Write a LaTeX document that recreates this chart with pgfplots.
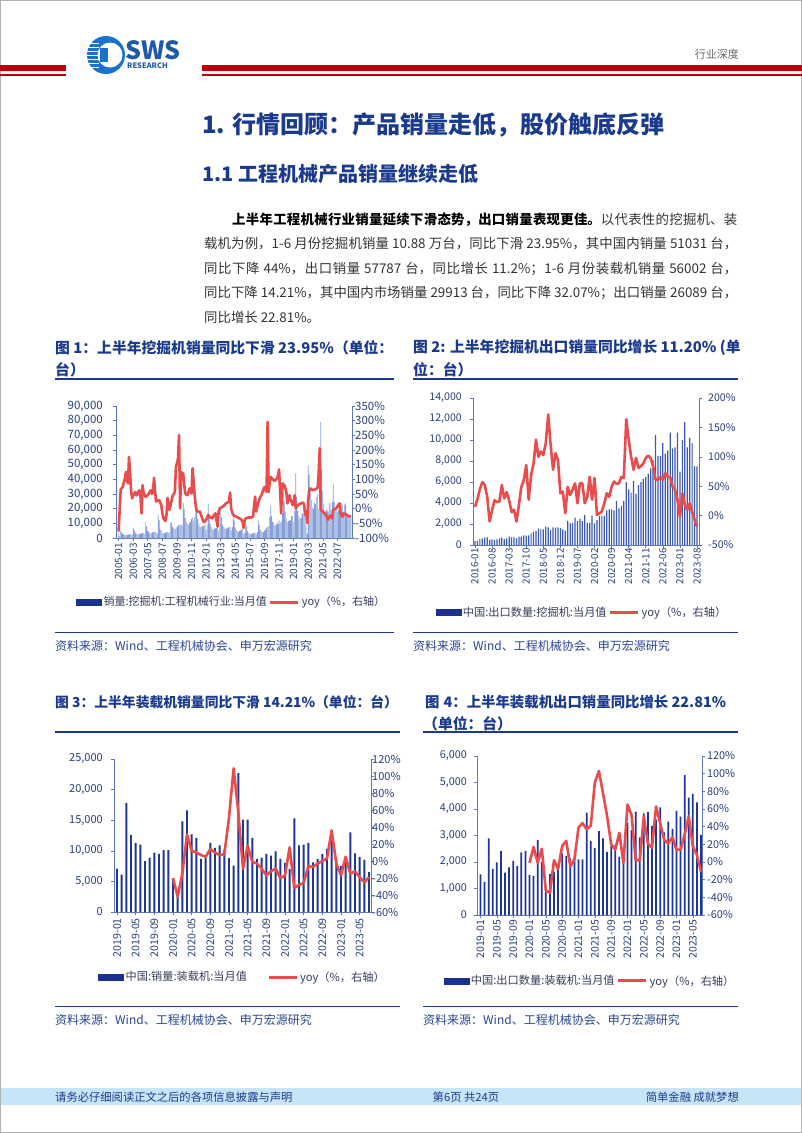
\documentclass[border=0pt]{standalone}
\usepackage{fontspec}
\setmainfont{Noto Sans CJK SC}
\usepackage{pgfplots}
\usepackage{pgfplotstable}
\pgfplotsset{compat=1.18}
\XeTeXlinebreaklocale "zh"
\XeTeXlinebreakskip=0pt plus 1pt minus 0.2pt

\definecolor{navy}{RGB}{26,58,140}
\definecolor{srcblue}{RGB}{40,70,145}
\definecolor{bodytxt}{RGB}{51,51,51}
\definecolor{redrule}{RGB}{192,0,0}
\definecolor{logoblue}{RGB}{25,115,205}
\definecolor{swsblue}{RGB}{30,90,170}
\definecolor{axiscol}{RGB}{95,120,190}
\definecolor{tickcol}{RGB}{40,62,125}
\definecolor{legtxt}{RGB}{55,60,90}
\definecolor{yoyred}{RGB}{232,76,76}
\definecolor{barlight}{RGB}{135,158,214}
\definecolor{barmid}{RGB}{60,90,180}
\definecolor{bardark}{RGB}{30,55,150}
\definecolor{legbar}{RGB}{25,50,145}
\definecolor{footband}{RGB}{200,228,248}

\newcommand{\myfs}[1]{\fontsize{#1}{#1}\selectfont}

\pgfplotsset{
  chartbase/.style={scale only axis, anchor=south west,
    axis line style={axiscol, line width=0.8pt},
    tick style={axiscol, line width=0.6pt},
    major tick length=3pt, tick align=outside,
    ticklabel style={text=tickcol, inner sep=0pt},
    /pgf/number format/assume math mode=true,
    /pgf/number format/1000 sep={,},
    scaled y ticks=false},
  barside/.style={chartbase, axis x line*=bottom, axis y line*=left,
    xticklabel style={rotate=90, anchor=east}},
  yoyside/.style={chartbase, axis y line*=right, axis x line=none,
    yticklabel={\pgfmathprintnumber{\tick}\%},
    legend columns=2, legend cell align=left,
    legend style={draw=none, fill=none, inner sep=0pt, anchor=center,
      text=legtxt, nodes={inner xsep=2pt, inner ysep=1pt}}},
  barleg/.style={legend image code/.code={\fill[legbar] (0pt,-3pt) rectangle (25pt,3pt);}},
  yoyleg/.style={legend image code/.code={\draw[yoyred, line width=3pt] (0pt,0pt) -- (28pt,0pt);}},
  yoyline/.style={yoyred, line width=2.6pt, line join=round, no markers, yoyleg},
}

% excavator sales, 2005-01 .. 2023-08
\pgfplotstableread[row sep=\\]{
bar yoy\\
3000 -78\\ 1500 -5\\ 4800 65\\ 4000 70\\ 2900 74\\ 2400 90\\ 2000 102\\ 1900 125\\ 2200 95\\ 2200 86\\ 2400 176\\ 2600 125\\
2500 60\\ 2000 35\\ 7000 46\\ 5500 50\\ 3600 57\\ 3100 45\\ 2500 50\\ 2400 58\\ 2800 63\\ 2800 40\\ 3100 -16\\ 3400 80\\
3400 55\\ 2700 46\\ 11000 40\\ 8000 44\\ 4900 46\\ 4200 52\\ 3400 58\\ 3200 63\\ 3800 50\\ 3800 57\\ 4200 105\\ 4600 60\\
4100 24\\ 3200 30\\ 16000 26\\ 12000 29\\ 5900 20\\ 5000 12\\ 3200 -15\\ 3000 -33\\ 3500 -38\\ 3500 -42\\ 3800 -20\\ 4000 37\\
3500 10\\ 3800 -4\\ 11000 15\\ 10000 30\\ 7500 46\\ 6500 50\\ 6000 57\\ 6200 142\\ 7800 155\\ 8200 170\\ 9000 251\\ 9500 1\\
9000 125\\ 8500 122\\ 24000 119\\ 20000 80\\ 13500 52\\ 11000 48\\ 9500 46\\ 9000 55\\ 10500 69\\ 11000 60\\ 13000 52\\ 14000 138\\
12000 90\\ 14500 46\\ 28000 10\\ 21000 -8\\ 13000 -9\\ 10000 -12\\ 8000 -10\\ 7500 -20\\ 8500 -30\\ 8000 -40\\ 9000 -46\\ 9500 -42\\
5500 -38\\ 9000 -30\\ 23000 -21\\ 15000 -27\\ 9500 -30\\ 7500 -31\\ 6000 -33\\ 5500 -25\\ 6500 -20\\ 6500 -16\\ 7000 -40\\ 7500 -61\\
5000 -10\\ 8000 1\\ 20000 3\\ 14000 5\\ 9000 7\\ 7500 10\\ 6500 14\\ 6000 18\\ 7000 20\\ 7000 22\\ 7500 24\\ 7500 55\\
5000 0\\ 7500 -12\\ 17000 -21\\ 12000 -24\\ 7000 -26\\ 5500 -27\\ 4500 -29\\ 4200 -31\\ 5000 -33\\ 5200 -35\\ 5800 -38\\ 6000 -45\\
3000 -66\\ 3500 -40\\ 10000 -33\\ 8000 -32\\ 4500 -31\\ 3500 -30\\ 2800 -30\\ 2600 -30\\ 3000 -29\\ 3200 -28\\ 3500 10\\ 4000 41\\
2600 -10\\ 4000 5\\ 12000 20\\ 9000 30\\ 5500 40\\ 4500 46\\ 3900 55\\ 4200 65\\ 5100 74\\ 5400 65\\ 7000 57\\ 7500 296\\
8000 57\\ 14000 90\\ 22000 108\\ 15000 104\\ 11000 100\\ 10500 97\\ 8700 95\\ 9000 100\\ 11000 102\\ 9500 115\\ 12000 134\\ 10500 60\\
11000 -16\\ 17000 86\\ 38000 84\\ 25000 80\\ 18000 70\\ 13000 57\\ 11000 18\\ 11500 35\\ 12000 46\\ 12000 30\\ 15000 24\\ 15000 12\\
11000 25\\ 18500 46\\ 44000 1\\ 28000 8\\ 18500 12\\ 15000 15\\ 13000 16\\ 13500 18\\ 17000 19\\ 16500 21\\ 20000 15\\ 22000 -20\\
9000 -10\\ 3000 -49\\ 49000 30\\ 43000 63\\ 34000 69\\ 26000 66\\ 21000 63\\ 20000 64\\ 24000 65\\ 23000 66\\ 28000 69\\ 30000 70\\
19600 120\\ 28300 206\\ 79000 -4\\ 47000 -7\\ 32000 -10\\ 23100 -14\\ 18000 -18\\ 18700 -21\\ 20100 -30\\ 18000 -38\\ 23700 -30\\ 24000 -24\\
19100 -28\\ 24500 -33\\ 37100 -4\\ 24500 -2\\ 20800 0\\ 20800 1\\ 17900 8\\ 19000 13\\ 21300 18\\ 20300 -16\\ 24100 -22\\ 23000 -27\\
16600 -15\\ 22800 -18\\ 24000 -20\\ 16800 -21\\ 15700 -24\\ 15400 -27\\ 14300 -25\\ 14700 -26\\
}\tabA

% excavator exports, 2016-01 .. 2023-08
\pgfplotstableread[row sep=\\]{
bar yoy\\
380 15\\ 400 28\\ 570 45\\ 630 57\\ 700 52\\ 730 32\\ 470 -10\\ 540 9\\ 500 26\\ 540 23\\ 630 24\\ 700 52\\
570 29\\ 630 40\\ 800 26\\ 730 6\\ 730 10\\ 630 -10\\ 800 18\\ 800 49\\ 920 60\\ 900 86\\ 920 27\\ 1100 69\\
1270 88\\ 1330 129\\ 1550 100\\ 1500 109\\ 1500 103\\ 1740 123\\ 1680 172\\ 1420 120\\ 1680 78\\ 1650 106\\ 1680 95\\ 1600 38\\
1500 41\\ 1360 4\\ 2300 49\\ 2060 35\\ 2100 44\\ 2600 55\\ 2300 21\\ 2500 55\\ 2280 55\\ 2850 21\\ 2100 32\\ 2100 66\\
2800 27\\ 2060 64\\ 2370 1\\ 2750 4\\ 2800 7\\ 2750 21\\ 3300 38\\ 3400 32\\ 3400 49\\ 3300 58\\ 4200 54\\ 3500 55\\
3700 66\\ 4200 64\\ 6000 164\\ 5300 129\\ 5000 100\\ 6100 78\\ 4900 98\\ 5700 81\\ 6000 84\\ 6300 89\\ 6500 98\\ 6800 102\\
7300 98\\ 8100 84\\ 10500 61\\ 8500 61\\ 8500 66\\ 9700 61\\ 8700 72\\ 9000 66\\ 10700 66\\ 9200 49\\ 9300 44\\ 10700 27\\
7000 -2\\ 10000 38\\ 11700 18\\ 9300 10\\ 10200 21\\ 9700 7\\ 7500 -7\\ 7500 -19\\
}\tabB

% loader sales, 2019-01 .. 2023-07
\pgfplotstableread[row sep=\\]{
bar yoy\\
7100 nan\\ 6100 nan\\ 17800 nan\\ 12600 nan\\ 11300 nan\\ 11000 nan\\ 8300 nan\\ 8900 nan\\ 9700 nan\\ 9500 nan\\ 10100 nan\\ 10100 nan\\
5500 -20\\ 3200 -42\\ 14800 -15\\ 16600 31\\ 12700 12\\ 12100 10\\ 8700 7\\ 8900 5\\ 11300 14\\ 10500 10\\ 10900 7\\ 10100 8\\
8800 51\\ 7600 109\\ 22700 57\\ 15100 -9\\ 15100 18\\ 12100 -1\\ 8700 -3\\ 8900 -9\\ 9500 -17\\ 9200 -12\\ 9900 -9\\ 8700 -20\\
8000 -17\\ 7000 16\\ 15300 -32\\ 10900 -28\\ 11000 -26\\ 11300 -6\\ 8100 -7\\ 8700 -3\\ 9500 0\\ 10300 3\\ 12000 36\\ 8500 -3\\
7500 -17\\ 8300 5\\ 13000 -15\\ 9600 -12\\ 9000 -19\\ 8500 -25\\ 6500 -19\\
}\tabC

% loader exports, 2019-01 .. 2023-07
\pgfplotstableread[row sep=\\]{
bar yoy\\
1530 nan\\ 1250 nan\\ 2890 nan\\ 1740 nan\\ 1990 nan\\ 2420 nan\\ 1600 nan\\ 1800 nan\\ 2040 nan\\ 1850 nan\\ 2360 nan\\ 2420 nan\\
1510 -1\\ 1470 17\\ 2830 -1\\ 2000 15\\ 1000 -32\\ 1550 -35\\ 1640 2\\ 1700 -8\\ 2330 18\\ 2230 24\\ 2140 -5\\ 2100 3\\
2100 39\\ 2100 44\\ 3860 37\\ 2790 41\\ 2520 90\\ 3170 103\\ 2890 78\\ 2380 52\\ 2600 20\\ 2650 14\\ 2200 33\\ 2450 -1\\
3480 65\\ 3200 53\\ 3900 2\\ 2930 2\\ 3840 51\\ 3890 21\\ 3360 16\\ 3600 63\\ 4060 44\\ 3120 25\\ 3520 21\\ 3250 28\\
3920 14\\ 3710 14\\ 5280 31\\ 4430 52\\ 4570 18\\ 4250 8\\ 3020 -11\\
}\tabD

\begin{document}
\begin{tikzpicture}
\begin{scope}[x=1pt,y=-1pt]
  \fill[white] (0,0) rectangle (802,1133);
  \draw[gray!60, line width=1pt] (0.5,0.5) rectangle (801.5,1132.5);

  % header: logo and red rules
  \fill[logoblue] (106,55) circle (19pt);
  \fill[white] (110,55) circle (12.5pt);
  \foreach \yy in {43,47,51,55,59,63,67}
    \fill[white] (86,\yy) rectangle (99,\yy+1.3);
  \fill[logoblue] (100,48) rectangle (108,62);
  \node[anchor=west, inner sep=0pt, text=swsblue, font=\myfs{25}\bfseries] at (125,50) {SWS};
  \node[anchor=west, inner sep=0pt, text=swsblue, font=\myfs{7.5}\bfseries] at (127,66) {RESEARCH};
  \fill[redrule] (0,65) rectangle (66,70.5);
  \fill[redrule] (0,74) rectangle (66,75.5);
  \fill[redrule] (202,65) rectangle (802,70.5);
  \fill[redrule] (202,74) rectangle (802,75.5);
  \node[anchor=east, inner sep=0pt, text=gray!80!black, font=\myfs{11}] at (739,54) {行业深度};

  % headings and body text
  \node[anchor=west, inner sep=0pt, text=navy, font=\myfs{24}\bfseries] at (202,125) {1. 行情回顾：产品销量走低，股价触底反弹};
  \node[anchor=west, inner sep=0pt, text=navy, font=\myfs{20}\bfseries] at (202,174) {1.1 工程机械产品销量继续走低};
  \node[anchor=base west, inner sep=0pt, text width=533pt, align=justify, text=bodytxt,
        font=\fontsize{13.4}{24.5}\selectfont] at (204,224)
   {\noindent\hspace*{28pt}{\bfseries\color{black}上半年工程机械行业销量延续下滑态势，出口销量表现更佳。}以代表性的挖掘机、装\linebreak
    载机为例，1-6 月份挖掘机销量 10.88 万台，同比下滑 23.95\%，其中国内销量 51031 台，\linebreak
    同比下降 44\%，出口销量 57787 台，同比增长 11.2\%；1-6 月份装载机销量 56002 台，\linebreak
    同比下降 14.21\%，其中国内市场销量 29913 台，同比下降 32.07\%；出口销量 26089 台，\linebreak
    同比增长 22.81\%。};

  % chart titles
  \begin{scope}[every node/.style={anchor=west, inner sep=0pt, text=navy, font=\myfs{14.8}\bfseries}]
    \node at (55,348) {图 1：上半年挖掘机销量同比下滑 23.95\%（单位：};
    \node at (55,370) {台）};
    \node at (413,348) {图 2: 上半年挖掘机出口销量同比增长 11.20\% (单};
    \node at (413,370) {位：台）};
    \node[font=\myfs{13.8}\bfseries] at (55,702) {图 3：上半年装载机销量同比下滑 14.21\%（单位：台）};
    \node[font=\myfs{14.4}\bfseries] at (425,702) {图\hspace{4pt}4：上半年装载机出口销量同比增长 22.81\%};
    \node at (423,724) {（单位：台）};
  \end{scope}
  \draw[navy, line width=1.6pt] (55,379) -- (394,379) (413,379) -- (738,379)
                                (55,732) -- (400,732) (423,732) -- (738,732);

  % sources
  \draw[navy, line width=1pt] (55,632) -- (394,632) (413,632) -- (738,632)
                              (55,1006) -- (400,1006) (423,1006) -- (738,1006);
  \begin{scope}[every node/.style={anchor=west, inner sep=0pt, text=srcblue, font=\myfs{12}}]
    \node at (55,646) {资料来源：Wind、工程机械协会、申万宏源研究};
    \node at (413,646) {资料来源：Wind、工程机械协会、申万宏源研究};
    \node at (55,1020) {资料来源：Wind、工程机械协会、申万宏源研究};
    \node at (423,1020) {资料来源：Wind、工程机械协会、申万宏源研究};
  \end{scope}

  % footer
  \fill[footband] (1,1088) rectangle (801,1105);
  \node[anchor=west, inner sep=0pt, text=navy, font=\myfs{11.3}] at (55,1097) {请务必仔细阅读正文之后的各项信息披露与声明};
  \node[inner sep=0pt, text=navy, font=\myfs{11.3}] at (466,1097) {第6页 共24页};
  \node[anchor=east, inner sep=0pt, text=navy, font=\myfs{11.3}] at (739,1097) {简单金融 成就梦想};
\end{scope}

% ---------- chart 1 ----------
\begin{axis}[barside, at={(116pt,-538pt)}, width=236pt, height=132pt,
  xmin=-2.5, xmax=224, ymin=0, ymax=90000, ytick={0,10000,...,90000},
  xtick={0,14,...,210},
  xticklabels={2005-01,2006-03,2007-05,2008-07,2009-09,2010-11,2012-01,2013-03,2014-05,2015-07,2016-09,2017-11,2019-01,2020-03,2021-05,2022-07},
  yticklabel style={font=\myfs{11.5}}, xticklabel style={font=\myfs{10}},
  yticklabel shift=10pt, xticklabel shift=2pt]
\addplot[ybar, bar width=0.62, fill=barlight, draw=none] table[x expr=\coordindex, y=bar] {\tabA};
\end{axis}
\begin{axis}[yoyside, at={(116pt,-538pt)}, width=236pt, height=132pt,
  xmin=-2.5, xmax=224, ymin=-100, ymax=350, ytick={-100,-50,...,350},
  yticklabel style={font=\myfs{11.5}}, yticklabel shift=0pt,
  legend style={at={(0.49,-0.485)}, font=\myfs{11}}]
\addlegendimage{barleg}
\addlegendentry{销量:挖掘机:工程机械行业:当月值}
\addplot[yoyline] table[x expr=\coordindex, y=yoy] {\tabA};
\addlegendentry{yoy（\%，右轴）}
\end{axis}

% ---------- chart 2 ----------
\begin{axis}[barside, at={(473pt,-545pt)}, width=226pt, height=147pt,
  xmin=-0.82, xmax=91.82, ymin=0, ymax=14000, ytick={0,2000,...,14000},
  xtick={0,7,...,91},
  xticklabels={2016-01,2016-08,2017-03,2017-10,2018-05,2018-12,2019-07,2020-02,2020-09,2021-04,2021-11,2022-06,2023-01,2023-08},
  yticklabel style={font=\myfs{10.6}}, xticklabel style={font=\myfs{9.8}},
  yticklabel shift=8pt, xticklabel shift=0pt]
\addplot[ybar, bar width=0.5, fill=barmid, draw=none] table[x expr=\coordindex, y=bar] {\tabB};
\end{axis}
\begin{axis}[yoyside, at={(473pt,-545pt)}, width=226pt, height=147pt,
  xmin=-0.82, xmax=91.82, ymin=-50, ymax=200, ytick={-50,0,...,200},
  yticklabel style={font=\myfs{10.6}}, yticklabel shift=6pt,
  legend style={at={(0.482,-0.456)}, font=\myfs{11.2}}]
\addlegendimage{barleg}
\addlegendentry{中国:出口数量:挖掘机:当月值}
\addplot[yoyline] table[x expr=\coordindex, y=yoy] {\tabB};
\addlegendentry{yoy（\%，右轴）}
\end{axis}

% ---------- chart 3 ----------
\begin{axis}[barside, at={(114pt,-912pt)}, width=257pt, height=153pt,
  xmin=-0.64, xmax=54.43, ymin=0, ymax=25000, ytick={0,5000,...,25000},
  xtick={0,4,...,52},
  xticklabels={2019-01,2019-05,2019-09,2020-01,2020-05,2020-09,2021-01,2021-05,2021-09,2022-01,2022-05,2022-09,2023-01,2023-05},
  yticklabel style={font=\myfs{11}}, xticklabel style={font=\myfs{10.6}},
  yticklabel shift=8pt, xticklabel shift=3pt]
\addplot[ybar, bar width=0.42, fill=bardark, draw=none] table[x expr=\coordindex, y=bar] {\tabC};
\end{axis}
\begin{axis}[yoyside, at={(114pt,-912pt)}, width=257pt, height=153pt,
  xmin=-0.64, xmax=54.43, ymin=-60, ymax=120, ytick={-60,-40,...,120},
  yticklabel style={font=\myfs{11}}, yticklabel shift=-2pt,
  legend style={at={(0.5,-0.425)}, font=\myfs{11.2},
    /tikz/every even column/.append style={column sep=18pt}}]
\addlegendimage{barleg}
\addlegendentry{中国:销量:装载机:当月值}
\addplot[yoyline] table[x expr=\coordindex, y=yoy] {\tabC};
\addlegendentry{yoy（\%，右轴）}
\end{axis}

% ---------- chart 4 ----------
\begin{axis}[barside, at={(477pt,-915pt)}, width=225pt, height=159pt,
  xmin=-0.86, xmax=54.25, ymin=0, ymax=6000, ytick={0,1000,...,6000},
  xtick={0,4,...,52},
  xticklabels={2019-01,2019-05,2019-09,2020-01,2020-05,2020-09,2021-01,2021-05,2021-09,2022-01,2022-05,2022-09,2023-01,2023-05},
  yticklabel style={font=\myfs{10.8}}, xticklabel style={font=\myfs{10.4}},
  yticklabel shift=7pt, xticklabel shift=2pt]
\addplot[ybar, bar width=0.42, fill=bardark, draw=none] table[x expr=\coordindex, y=bar] {\tabD};
\end{axis}
\begin{axis}[yoyside, at={(477pt,-915pt)}, width=225pt, height=159pt,
  xmin=-0.86, xmax=54.25, ymin=-60, ymax=120, ytick={-60,-40,...,120},
  yticklabel style={font=\myfs{10.8}}, yticklabel shift=2pt,
  legend style={at={(0.502,-0.415)}, font=\myfs{11.2}}]
\addlegendimage{barleg}
\addlegendentry{中国:出口数量:装载机:当月值}
\addplot[yoyline] table[x expr=\coordindex, y=yoy] {\tabD};
\addlegendentry{yoy（\%，右轴）}
\end{axis}
\end{tikzpicture}
\end{document}
